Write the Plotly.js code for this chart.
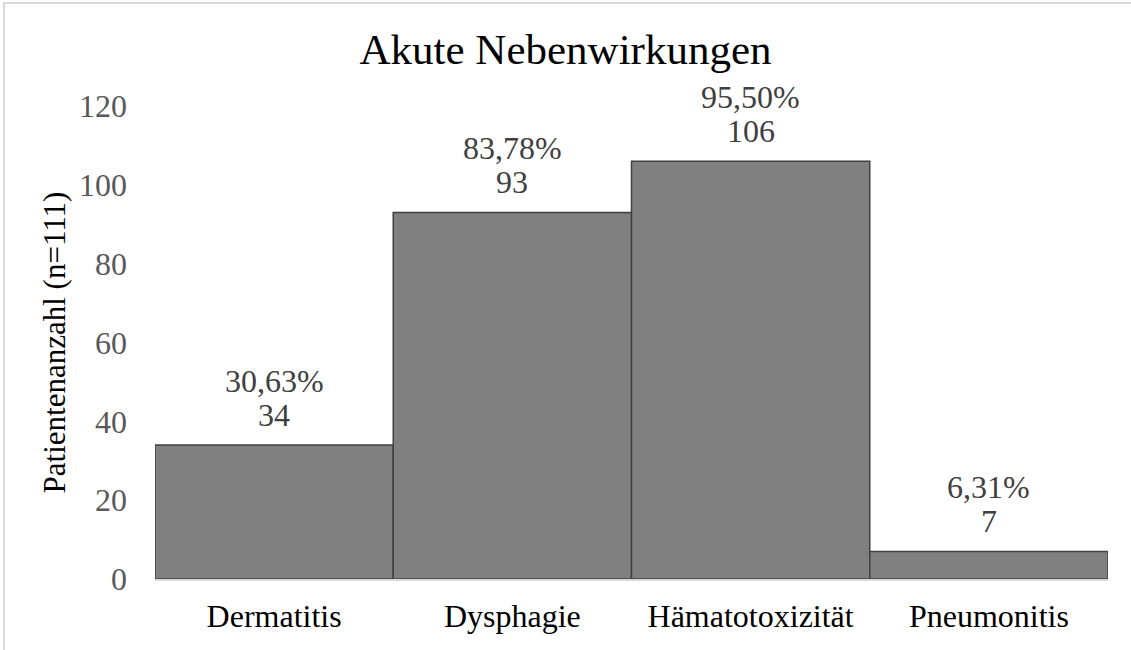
<!DOCTYPE html>
<html>
<head>
<meta charset="utf-8">
<script src="https://cdn.plot.ly/plotly-3.0.1.min.js"></script>
<style>
html,body{margin:0;padding:0;background:#fff;}
#chart{width:1131px;height:650px;position:absolute;left:0;top:0;}
#frame{position:absolute;left:3px;top:2px;width:1128px;height:648px;border-left:2px solid #d9d9d9;border-top:2px solid #d9d9d9;pointer-events:none;box-sizing:border-box;}
</style>
</head>
<body>
<div id="chart"></div>
<div id="frame"></div>
<script>
const categories = ["Dermatitis", "Dysphagie", "Hämatotoxizität", "Pneumonitis"];
const counts = [34, 93, 106, 7];
const percents = ["30,63%", "83,78%", "95,50%", "6,31%"];
const yTicks = [0, 20, 40, 60, 80, 100, 120];

const FONT = "Liberation Serif, Times New Roman, serif";

const trace = {
  type: "bar",
  x: categories,
  y: counts,
  marker: {color: "#808080", line: {color: "#404040", width: 1.5}},
  hoverinfo: "skip"
};

const annotations = [];
categories.forEach((c, i) => {
  annotations.push({
    x: c, y: counts[i], xref: "x", yref: "y",
    text: String(counts[i]), showarrow: false,
    yanchor: "middle", yshift: 30,
    font: {family: FONT, size: 32, color: "#404040"}
  });
  annotations.push({
    x: c, y: counts[i], xref: "x", yref: "y",
    text: percents[i], showarrow: false,
    yanchor: "middle", yshift: 64,
    font: {family: FONT, size: 32, color: "#404040"}
  });
});

const layout = {
  width: 1131,
  height: 650,
  margin: {l: 155, r: 23, t: 106, b: 71},
  paper_bgcolor: "#ffffff",
  plot_bgcolor: "#ffffff",
  font: {family: FONT},
  bargap: 0,
  showlegend: false,
  annotations: annotations,
  title: {
    text: "Akute Nebenwirkungen",
    font: {family: FONT, size: 43, color: "#000000"},
    x: 0.5, xanchor: "center", y: 0.925, yanchor: "middle"
  },
  xaxis: {
    type: "category",
    showgrid: false,
    showline: true,
    linecolor: "#d9d9d9",
    linewidth: 1.5,
    ticks: "",
    tickfont: {family: FONT, size: 32, color: "#000000"},
    ticklabelstandoff: 8
  },
  yaxis: {
    range: [0, 120],
    tickvals: yTicks,
    showgrid: false,
    zeroline: false,
    showline: false,
    ticks: "",
    tickfont: {family: FONT, size: 32, color: "#595959"},
    ticklabelstandoff: 27,
    title: {
      text: "Patientenanzahl (n=111)",
      font: {family: FONT, size: 31, color: "#000000"},
      standoff: 4
    }
  }
};

Plotly.newPlot("chart", [trace], layout, {displayModeBar: false, staticPlot: true});
</script>
</body>
</html>
